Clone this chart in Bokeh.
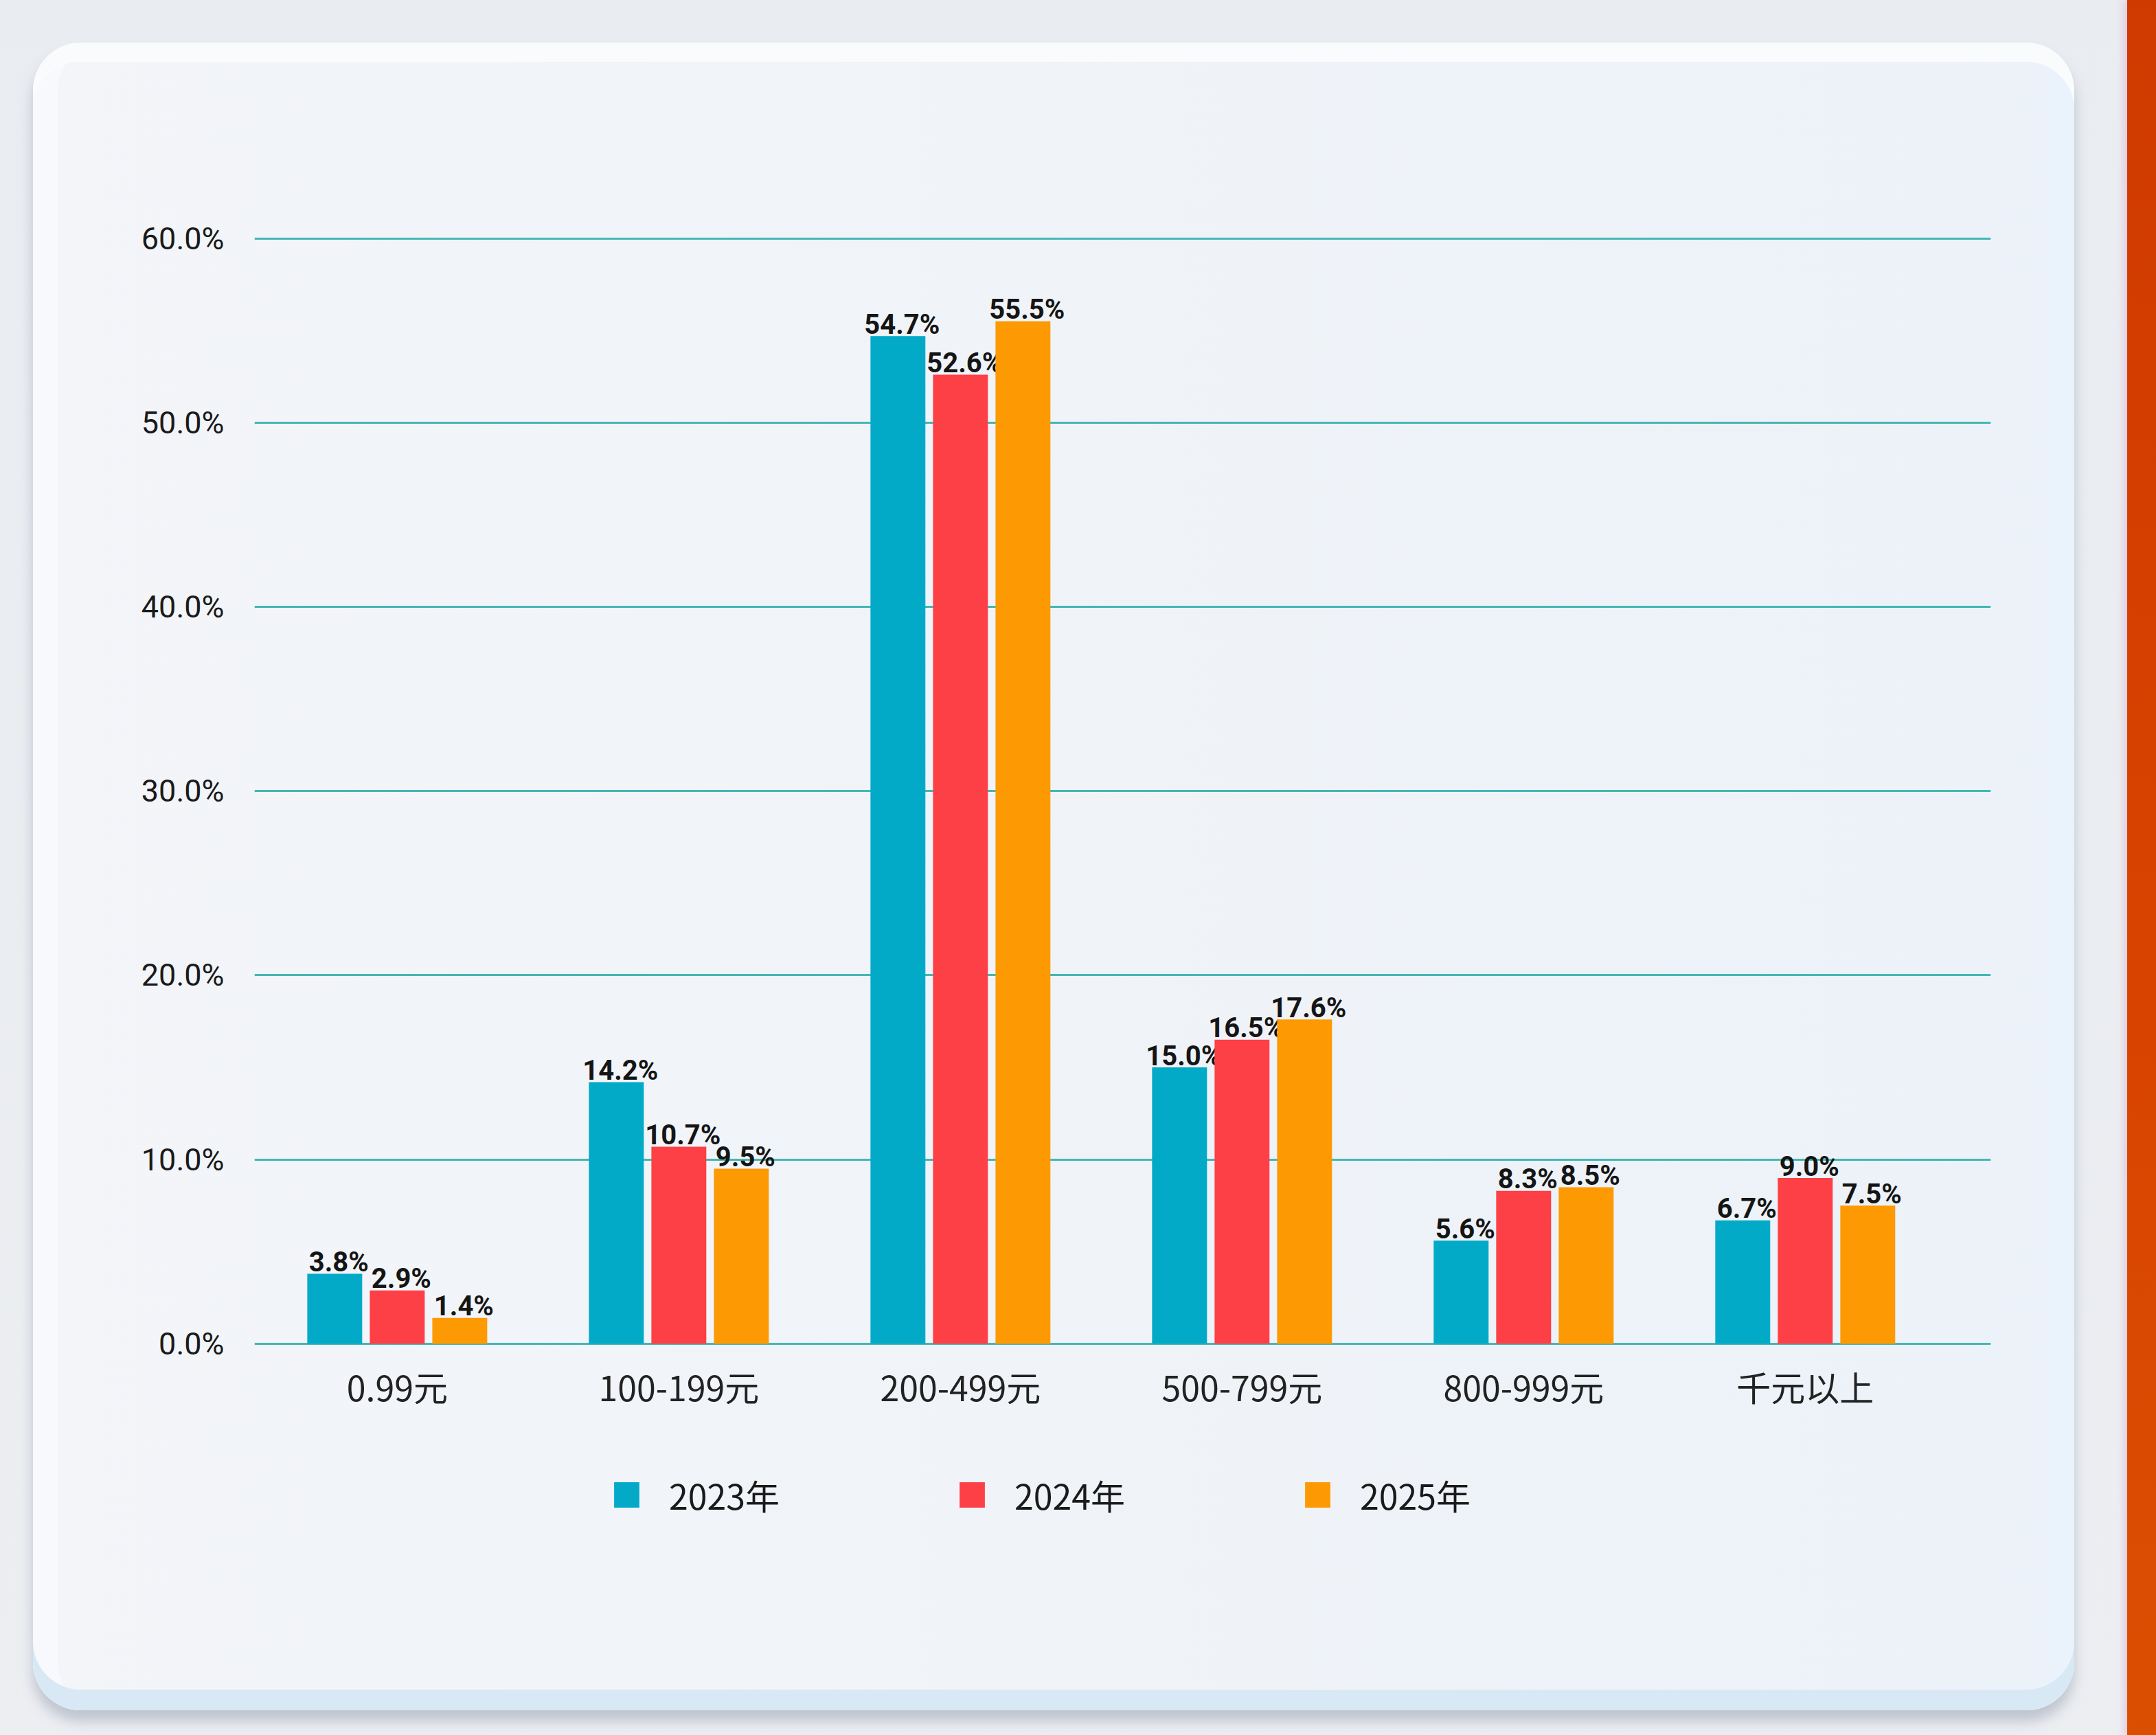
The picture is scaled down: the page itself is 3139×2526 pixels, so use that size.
from bokeh.plotting import figure
from bokeh.models import (ColumnDataSource, FixedTicker, Range1d, Legend, LegendItem,
                          PrintfTickFormatter, Spacer)
from bokeh.layouts import row
from bokeh.core.properties import value
from bokeh.embed import file_html
from bokeh.resources import INLINE

# Share of spending by price band, per year (%)
price_bands = ["0.99元", "100-199元", "200-499元", "500-799元", "800-999元", "千元以上"]
years = ["2023年", "2024年", "2025年"]
share_2023 = [3.8, 14.2, 54.7, 15.0, 5.6, 6.7]
share_2024 = [2.9, 10.7, 52.6, 16.5, 8.3, 9.0]
share_2025 = [1.4, 9.5, 55.5, 17.6, 8.5, 7.5]
y_ticks = [0, 10, 20, 30, 40, 50, 60]

series = [share_2023, share_2024, share_2025]
colors = ["#03aac8", "#fd4045", "#fd9a03"]
offsets = [-0.222, 0.0, 0.222]

CJK = "Noto Sans CJK SC"

# the frame reaches below zero so the category axis and the legend sit inside it
p = figure(width=2972, height=2428, output_backend="svg", toolbar_location=None,
           x_range=Range1d(-0.507, 5.659), y_range=Range1d(-15.14, 62),
           min_border_left=322, min_border_right=122, min_border_top=231,
           min_border_bottom=128)
p.border_fill_color = None
p.background_fill_color = None
p.outline_line_color = None

renderers = []
for vals, col, off in zip(series, colors, offsets):
    src = ColumnDataSource(dict(
        x=[k + off for k in range(len(price_bands))],
        top=vals,
        label=[f"{v:.1f}%" for v in vals],
    ))
    r = p.vbar(x="x", top="top", bottom=0, width=0.195, source=src,
               fill_color=col, line_color=None)
    p.text(x="x", y="top", text="label", source=src, text_align="center",
           text_baseline="alphabetic", x_offset=6, y_offset=-17,
           text_font=value("Roboto"), text_font_style="bold",
           text_font_size="40px", text_color="#151515")
    renderers.append(r)

# x axis pinned to the zero line: one tick per price band
p.xaxis.fixed_location = 0
p.xaxis.ticker = FixedTicker(ticks=list(range(len(price_bands))))
p.xaxis.major_label_overrides = {i: b for i, b in enumerate(price_bands)}
p.xaxis.major_label_text_font = CJK
p.xaxis.major_label_text_font_size = "50px"
p.xaxis.major_label_text_color = "#222222"
p.xaxis.major_label_standoff = 20

# y axis: percentage ticks
p.yaxis.ticker = FixedTicker(ticks=y_ticks)
p.yaxis.formatter = PrintfTickFormatter(format="%.1f%%")
p.yaxis.major_label_text_font = "Roboto"
p.yaxis.major_label_text_font_size = "45px"
p.yaxis.major_label_text_color = "#1a1a1a"
p.yaxis.major_label_standoff = 38

for ax in (p.xaxis, p.yaxis):
    ax.axis_line_color = None
    ax.major_tick_line_color = None
    ax.minor_tick_line_color = None

p.xgrid.visible = False
p.ygrid.grid_line_color = "#45b7b2"
p.ygrid.grid_line_width = 3

legend = Legend(
    items=[LegendItem(label=y, renderers=[r]) for y, r in zip(years, renderers)],
    orientation="horizontal", location=(519, 150),
    glyph_width=46, glyph_height=46, label_standoff=39, spacing=257,
    label_text_font=CJK, label_text_font_size="50px", label_text_color="#1a1a1a",
    padding=0, margin=0, border_line_color=None, background_fill_alpha=0,
)
p.add_layout(legend, "center")

# rounded card behind the chart
p.margin = (62, 0, 0, 48)
p.styles = {
    "border-radius": "70px",
    "overflow": "hidden",
    "background": "linear-gradient(90deg, #f3f5f9 0%, #eff3f8 60%, #ecf2f9 100%)",
    "box-shadow": ("inset 0 -30px 0 0 #d8e8f4, inset 0 28px 0 0 #f9fbfd, "
                   "inset 36px 0 0 0 #f7f9fc, inset -36px 0 0 0 #eaf3fb, "
                   "0 16px 18px rgba(110,120,140,0.35)"),
}

# accent stripe at the right edge
stripe = Spacer(width=42, height=2526, margin=(0, 0, 0, 77),
                styles={"background": "linear-gradient(180deg, #cf3a00 0%, #d84200 50%, #db4f02 100%)",
                        "box-shadow": "-6px 0 8px rgba(230,200,220,0.8)"})

root = row(p, stripe, width=3139, height=2526,
           styles={"background": "linear-gradient(180deg, #e9ecf0 0%, #eceef2 100%)"})

open("out.html", "w").write(file_html(root, INLINE))
